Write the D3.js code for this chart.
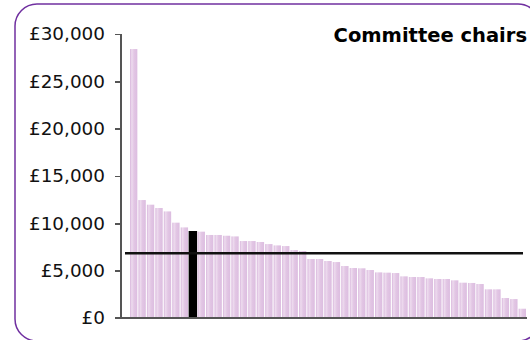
<!DOCTYPE html>
<meta charset="utf-8">
<head>
    <title>Committee chairs</title>
</head>
<style>
    body {
        margin: 0;
        background-color: #ffffff;
        font-family: Verdana, "DejaVu Sans", sans-serif;
    }

    .axis path,
    .axis line {
        fill: none;
        stroke: #555555;
        stroke-width: 1.5px;
        shape-rendering: crispEdges;
    }

    .axis text {
        font-family: Verdana, "DejaVu Sans", sans-serif;
        font-size: 18.4px;
        fill: #111111;
    }

    .title {
        font-family: Verdana, "DejaVu Sans", sans-serif;
        font-size: 19.5px;
        font-weight: 700;
        fill: #000000;
    }
</style>
<body>
    <svg width="530" height="340"></svg>
</body>
<script src="https://d3js.org/d3.v7.min.js"></script>
<script>
    // allowance paid to each committee chair, sorted high to low
    var payments = [28410, 12460, 11970, 11620, 11260, 10070, 9570, 9190, 9120, 8770,
        8770, 8690, 8620, 8130, 8130, 8030, 7810, 7670, 7600, 7180,
        7075, 6230, 6230, 6020, 5910, 5490, 5280, 5250, 5070, 4820,
        4790, 4750, 4400, 4330, 4330, 4190, 4120, 4120, 3980, 3730,
        3700, 3590, 3030, 3030, 2110, 2000, 980];
    var highlightIndex = 7;
    var averagePayment = 6840;
    var yTicks = [0, 5000, 10000, 15000, 20000, 25000, 30000];
    var chartTitle = "Committee chairs";

    var svg = d3.select("svg");

    var defs = svg.append("defs");
    var grad = defs.append("linearGradient")
        .attr("id", "barFill")
        .attr("x1", "0%").attr("x2", "100%")
        .attr("y1", "0%").attr("y2", "0%");
    grad.append("stop").attr("offset", "0%").attr("stop-color", "#d8b6dc");
    grad.append("stop").attr("offset", "25%").attr("stop-color", "#eddbee");
    grad.append("stop").attr("offset", "55%").attr("stop-color", "#e2c6e4");
    grad.append("stop").attr("offset", "100%").attr("stop-color", "#dcbde0");

    // rounded frame
    svg.append("rect")
        .attr("x", 15)
        .attr("y", 4)
        .attr("width", 525)
        .attr("height", 337)
        .attr("rx", 22)
        .attr("fill", "#ffffff")
        .attr("stroke", "#7030a0")
        .attr("stroke-width", 1.5);

    var x = d3.scaleBand()
        .domain(d3.range(payments.length))
        .range([130, 526])
        .paddingInner(0.13)
        .paddingOuter(0);

    var y = d3.scaleLinear()
        .domain([0, 30000])
        .range([318, 34]);

    var fmt = d3.format(",");

    // bars
    svg.selectAll(".bar")
        .data(payments)
        .enter()
        .append("rect")
        .attr("class", "bar")
        .attr("x", (d, i) => i == highlightIndex ? x(i) - 0.5 : x(i))
        .attr("width", (d, i) => i == highlightIndex ? x.step() : x.bandwidth())
        .attr("y", d => y(d))
        .attr("height", d => y(0) - y(d))
        .attr("fill", (d, i) => i == highlightIndex ? "#000000" : "url(#barFill)");

    // y axis
    svg.append("g")
        .attr("class", "axis")
        .attr("transform", "translate(121,0)")
        .call(d3.axisLeft(y)
            .tickValues(yTicks)
            .tickSize(6)
            .tickPadding(10)
            .tickFormat(d => "£" + fmt(d)))
        .call(g => g.select(".domain").attr("stroke", "#111111").attr("d", "M0,34V318"));

    // x baseline
    svg.append("line")
        .attr("x1", 115)
        .attr("x2", 527)
        .attr("y1", y(0))
        .attr("y2", y(0))
        .attr("stroke", "#555555")
        .attr("stroke-width", 1.5)
        .attr("shape-rendering", "crispEdges");

    // average line
    svg.append("line")
        .attr("x1", 125)
        .attr("x2", 523)
        .attr("y1", y(averagePayment))
        .attr("y2", y(averagePayment))
        .attr("stroke", "#111111")
        .attr("stroke-width", 2.5);

    svg.append("text")
        .attr("class", "title")
        .attr("x", 527)
        .attr("y", 42)
        .attr("text-anchor", "end")
        .text(chartTitle);
</script>
